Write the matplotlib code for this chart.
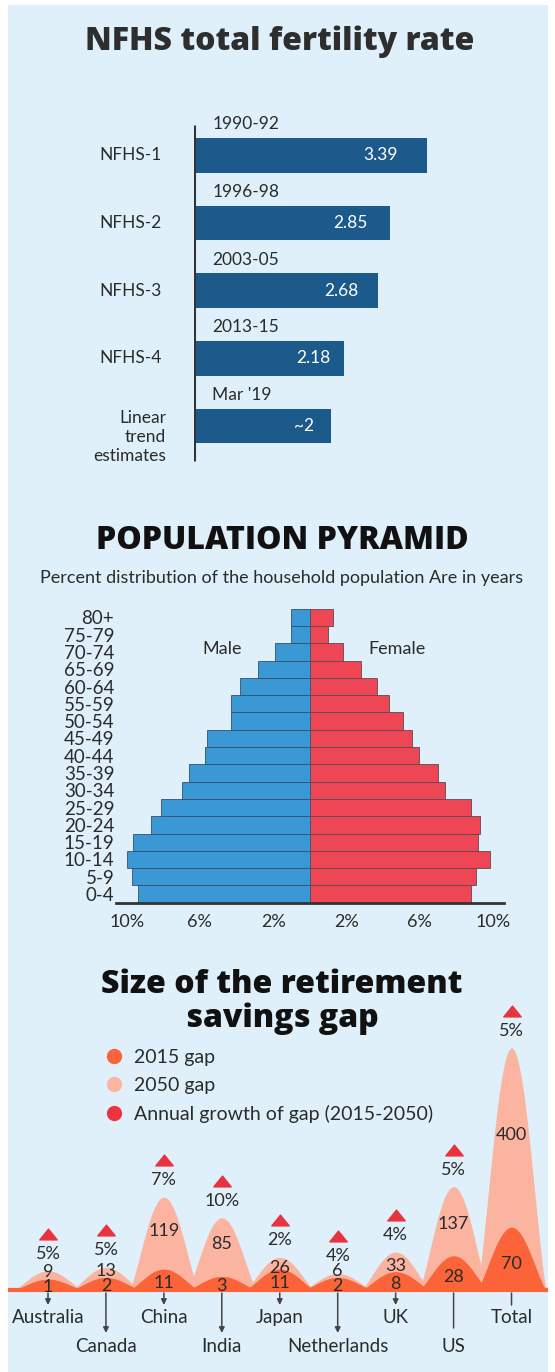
import numpy as np
import matplotlib
matplotlib.use("Agg")
import matplotlib.pyplot as plt
from matplotlib.patches import Rectangle
from matplotlib.lines import Line2D
from matplotlib.path import Path
from matplotlib.transforms import offset_copy

# ---------------- data ----------------
tfr_categories = ["NFHS-1", "NFHS-2", "NFHS-3", "NFHS-4", "Linear\ntrend\nestimates"]
tfr_periods = ["1990-92", "1996-98", "2003-05", "2013-15", "Mar '19"]
tfr_values = [3.39, 2.85, 2.68, 2.18, 2.0]
tfr_labels = ["3.39", "2.85", "2.68", "2.18", "~2"]

age_groups = ["0-4", "5-9", "10-14", "15-19", "20-24", "25-29", "30-34", "35-39",
              "40-44", "45-49", "50-54", "55-59", "60-64", "65-69", "70-74", "75-79", "80+"]
male_pct = [9.4, 9.7, 10.0, 9.65, 8.65, 8.1, 7.0, 6.6, 5.7, 5.6, 4.3, 4.3, 3.8, 2.8, 1.9, 1.0, 1.0]
female_pct = [8.8, 9.1, 9.85, 9.2, 9.3, 8.8, 7.4, 7.0, 5.95, 5.6, 5.1, 4.35, 3.7, 2.8, 1.8, 1.0, 1.3]
pyr_ticks = [-10, -6, -2, 2, 6, 10]
pyr_ticklabels = ["10%", "6%", "2%", "2%", "6%", "10%"]

countries = ["Australia", "Canada", "China", "India", "Japan", "Netherlands", "UK", "US", "Total"]
gap_2015 = [1, 2, 11, 3, 11, 2, 8, 28, 70]
gap_2050 = [9, 13, 119, 85, 26, 6, 33, 137, 400]
growth_pct = ["5%", "5%", "7%", "10%", "2%", "4%", "4%", "5%", "5%"]
pointer_style = ["arrow", "arrow", "arrow", "arrow", "arrow", "arrow", "arrow", "line", "line"]

# ---------------- style ----------------
W, H = 555, 1372
BG = "#dff0fa"
TXT = "#2b2b2b"
BODY = ["Lato", "DejaVu Sans"]
TITLE = ["Open Sans", "DejaVu Sans"]
plt.rcParams["font.family"] = BODY

fig = plt.figure(figsize=(W / 100, H / 100), dpi=100)
fig.patch.set_facecolor("white")
fig.patches.append(Rectangle((8 / W, 0), 540 / W, 1 - 5 / H, transform=fig.transFigure,
                             facecolor=BG, edgecolor="none", zorder=-10))


def px_axes(left, top, width, height):
    ax = fig.add_axes([left / W, 1 - (top + height) / H, width / W, height / H])
    ax.set_facecolor("none")
    return ax


def ftext(x, y, s, **kw):
    return fig.text(x / W, 1 - y / H, s, **kw)


# ================= Chart 1: NFHS TFR =================
ftext(280, 42, "NFHS total fertility rate", ha="center", va="center", fontsize=23,
      fontweight="heavy", family=TITLE, color="#2e2e2e")

unit_px = 68.8
row_px = 67.7
ax1 = px_axes(193.6, 155.3 - 0.7 * row_px, 5.0 * unit_px, 5.4 * row_px)
ax1.set_xlim(0, 5.0)
ax1.set_ylim(4.7, -0.7)
ypos = np.arange(len(tfr_values))
ax1.barh(ypos, tfr_values, height=0.51, color="#1d5a8c", zorder=2)
for i, (v, lab, per, cat) in enumerate(zip(tfr_values, tfr_labels, tfr_periods, tfr_categories)):
    ax1.text(0.8 * v, i, lab, ha="center", va="center", color="white", fontsize=12.5, zorder=3)
    ax1.text(0.27, i - 0.46, per, ha="left", va="center", color=TXT, fontsize=12.5)
    if "\n" in cat:
        ax1.text(-0.4, i + 0.16, cat, ha="right", va="center", color=TXT, fontsize=12.5,
                 linespacing=1.2)
    else:
        ax1.text(-0.47, i, cat, ha="right", va="center", color=TXT, fontsize=12.5)
ax1.vlines(0, -0.45, 4.52, color="#333333", lw=2.2, zorder=4)
ax1.axis("off")

# ================= Chart 2: Population pyramid =================
ftext(282, 541, "POPULATION PYRAMID", ha="center", va="center", fontsize=23,
      fontweight="heavy", family=TITLE, color="#111111")
ftext(282, 578, "Percent distribution of the household population Are in years",
      ha="center", va="center", fontsize=13, color=TXT)

pct_px = 18.3
ax2 = px_axes(309.7 - 10.6 * pct_px, 608.7, 21.6 * pct_px, 294)
rows = np.arange(len(age_groups))
ax2.barh(rows, -np.array(male_pct), height=1.0, color="#3a99d5", edgecolor="#34506a",
         linewidth=0.6, zorder=2)
ax2.barh(rows, female_pct, height=1.0, color="#ef4655", edgecolor="#5a4a55",
         linewidth=0.6, zorder=2)
ax2.set_xlim(-10.6, 11)
ax2.set_ylim(-0.5, len(age_groups) - 0.5)
ax2.set_yticks(rows)
ax2.set_yticklabels(age_groups, fontsize=13.5, color=TXT)
ax2.set_xticks(pyr_ticks)
ax2.set_xticklabels(pyr_ticklabels, fontsize=13, color=TXT)
ax2.tick_params(axis="both", length=0)
ax2.tick_params(axis="y", pad=1)
ax2.tick_params(axis="x", pad=8)
for s in ["top", "right", "left"]:
    ax2.spines[s].set_visible(False)
ax2.spines["bottom"].set_bounds(-10.6, 10.6)
ax2.spines["bottom"].set_color("#333333")
ax2.spines["bottom"].set_linewidth(2)
ax2.spines["bottom"].set_zorder(5)
ax2.text(-4.8, 14.16, "Male", ha="center", va="center", fontsize=13, color=TXT)
ax2.text(4.77, 14.16, "Female", ha="center", va="center", fontsize=13, color=TXT)

# ================= Chart 3: retirement savings gap =================
ftext(282, 1002, "Size of the retirement\nsavings gap", ha="center", va="center",
      fontsize=23, fontweight="heavy", family=TITLE, color="#111111", linespacing=1.08)

C_2015 = "#fa6438"
C_2050 = "#fbb4a0"
C_GROW = "#e8323e"

A_S, C_S, P_S = 1.425, 10.0, 0.85


def fwd(v):
    v = np.asarray(v, dtype=float)
    a = np.abs(v)
    return np.sign(v) * (A_S * a ** P_S + C_S * (1 - np.exp(-3 * a)))


_g = np.geomspace(1e-7, 5000, 6000)
_grid = np.concatenate([-_g[::-1], [0.0], _g])
_fgrid = fwd(_grid)


def inv(y):
    return np.interp(np.asarray(y, dtype=float), _fgrid, _grid)


step_px = 57.94
x0_px = 48
ax3 = px_axes(8, 990, 540, 310)
ax3.set_yscale("function", functions=(fwd, inv))
ax3.set_xlim((8 - x0_px) / step_px, (548 - x0_px) / step_px)
ax3.set_ylim(inv(-10), inv(300))
ax3.axis("off")

half_w = 0.6
for layer, color, z in [(gap_2050, C_2050, 2), (gap_2015, C_2015, 3)]:
    for i, v in enumerate(layer):
        xs = np.linspace(i - half_w, i + half_w, 300)
        u = (xs - i) / half_w
        shape = np.clip(np.cos(np.pi * u / 2), 0, None) ** 1.3
        ys = inv(fwd(v) * shape)
        ax3.fill_between(xs, 0, ys, color=color, lw=0, zorder=z)
ax3.axhline(0, color=C_2015, lw=3, zorder=4)

tri = Path([(-1, -0.62), (1, -0.62), (0, 0.62), (-1, -0.62)],
           [Path.MOVETO, Path.LINETO, Path.LINETO, Path.CLOSEPOLY])
tri_tr = offset_copy(ax3.transData, fig=fig, x=0, y=37, units="dots")
for i, (v15, v50, g, name, ps) in enumerate(zip(gap_2015, gap_2050, growth_pct,
                                                 countries, pointer_style)):
    h15 = fwd(v15)
    h50 = fwd(v50)
    y15 = max(0.45 * h15 - 2, 0)
    y50 = max(0.64 * h50, y15 + 15)
    ax3.text(i, inv(y15), str(v15), ha="center", va="center", fontsize=13, color=TXT, zorder=6)
    ax3.text(i, inv(y50), str(v50), ha="center", va="center", fontsize=13, color=TXT, zorder=6)
    ax3.annotate(g, xy=(i, v50), xytext=(0, 17 * 0.72), textcoords="offset points",
                 ha="center", va="center", fontsize=13, color=TXT, annotation_clip=False)
    ax3.plot([i], [v50], marker=tri, markersize=12.5, color=C_GROW, transform=tri_tr,
             clip_on=False, zorder=6)
    row2 = i % 2 == 1
    lab_px = 57 if row2 else 28
    ax3.annotate(name, xy=(i, 0), xytext=(0, -lab_px * 0.72), textcoords="offset points",
                 ha="center", va="center", fontsize=13.5, color=TXT, annotation_clip=False)
    end_px = (43 if row2 else 15) if ps == "arrow" else (38 if row2 else 15)
    start_tr = offset_copy(ax3.transData, fig=fig, x=0, y=-3, units="dots")
    end_tr = offset_copy(ax3.transData, fig=fig, x=0, y=-end_px, units="dots")
    style = "-|>" if ps == "arrow" else "-"
    ax3.annotate("", xy=(i, 0), xycoords=end_tr, xytext=(i, 0), textcoords=start_tr,
                 arrowprops=dict(arrowstyle=style, color="#444444", lw=1.1,
                                 mutation_scale=8, shrinkA=0, shrinkB=0),
                 annotation_clip=False)

handles = [Line2D([0], [0], marker="o", ls="none", markersize=11, markerfacecolor=c,
                  markeredgecolor="none") for c in (C_2015, C_2050, "#ee3340")]
ax3.legend(handles, ["2015 gap", "2050 gap", "Annual growth of gap (2015-2050)"],
           loc="upper left", bbox_to_anchor=(104.3 / W, 1 - 1049 / H),
           bbox_transform=fig.transFigure, frameon=False, fontsize=14,
           handlelength=1.0, handletextpad=0.53, labelspacing=0.56,
           borderpad=0, borderaxespad=0, labelcolor=TXT)

fig.savefig("out.png", dpi=100, facecolor=fig.get_facecolor())
